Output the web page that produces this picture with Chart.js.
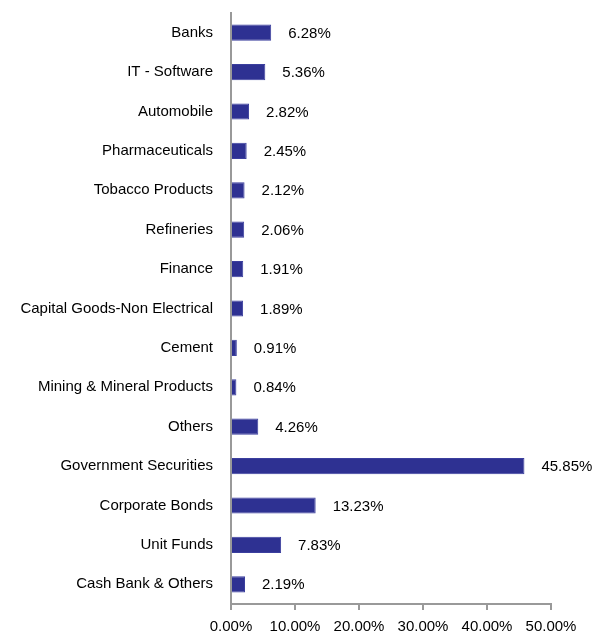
<!DOCTYPE html>
<html>
<head>
<meta charset="utf-8">
<script src="https://cdn.jsdelivr.net/npm/chart.js@4"></script>
<style>
  html, body { margin: 0; padding: 0; background: #fff; }
  #wrap { width: 594px; height: 634px; }
</style>
</head>
<body>
<div id="wrap"><canvas id="myChart"></canvas></div>
<script>
var categories = ['Banks', 'IT - Software', 'Automobile', 'Pharmaceuticals', 'Tobacco Products',
    'Refineries', 'Finance', 'Capital Goods-Non Electrical', 'Cement', 'Mining & Mineral Products',
    'Others', 'Government Securities', 'Corporate Bonds', 'Unit Funds', 'Cash Bank & Others'];
var weights = [6.28, 5.36, 2.82, 2.45, 2.12, 2.06, 1.91, 1.89, 0.91, 0.84, 4.26, 45.85, 13.23, 7.83, 2.19];
var xTicks = [0, 10, 20, 30, 40, 50];

var fontFamily = '"Liberation Sans", Arial, sans-serif';

// draws the value to the right of each bar
var valueLabels = {
    id: 'valueLabels',
    afterDatasetsDraw: function (chart) {
        var ctx = chart.ctx;
        var meta = chart.getDatasetMeta(0);
        ctx.save();
        ctx.font = '15px ' + fontFamily;
        ctx.fillStyle = '#000';
        ctx.textAlign = 'left';
        ctx.textBaseline = 'middle';
        meta.data.forEach(function (bar, i) {
            ctx.fillText(weights[i].toFixed(2) + '%', bar.x + 17, bar.y + 1);
        });
        ctx.restore();
    }
};

var ctx = document.getElementById('myChart').getContext('2d');
var myChart = new Chart(ctx, {
    type: 'bar',
    data: {
        labels: categories,
        datasets: [{
            data: weights,
            backgroundColor: '#2E3192',
            borderColor: '#3B3F9E',
            borderWidth: 1,
            categoryPercentage: 1,
            barPercentage: 0.41
        }]
    },
    options: {
        indexAxis: 'y',
        responsive: true,
        maintainAspectRatio: false,
        animation: false,
        layout: {
            padding: { top: 13, right: 43, bottom: 0, left: 0 }
        },
        plugins: {
            legend: { display: false },
            tooltip: { enabled: false }
        },
        scales: {
            x: {
                min: 0,
                max: 50,
                afterBuildTicks: function (scale) {
                    scale.ticks = xTicks.map(function (v) { return { value: v }; });
                },
                afterFit: function (scale) { scale.height = 30; },
                ticks: {
                    color: '#000',
                    padding: 8,
                    maxRotation: 0,
                    font: { family: fontFamily, size: 15 },
                    callback: function (v) { return v.toFixed(2) + '%'; }
                },
                grid: {
                    drawOnChartArea: false,
                    drawTicks: true,
                    tickLength: 6,
                    color: '#999',
                    lineWidth: 2
                },
                border: { display: true, color: '#999', width: 2 }
            },
            y: {
                afterFit: function (scale) {
                    scale.width = 231;
                    scale.paddingTop = 0;
                    scale.paddingBottom = 0;
                },
                ticks: {
                    color: '#000',
                    padding: 18,
                    autoSkip: false,
                    font: { family: fontFamily, size: 15 }
                },
                grid: { display: false, drawTicks: false },
                border: { display: true, color: '#999', width: 2 }
            }
        }
    },
    plugins: [valueLabels]
});
</script>
</body>
</html>
